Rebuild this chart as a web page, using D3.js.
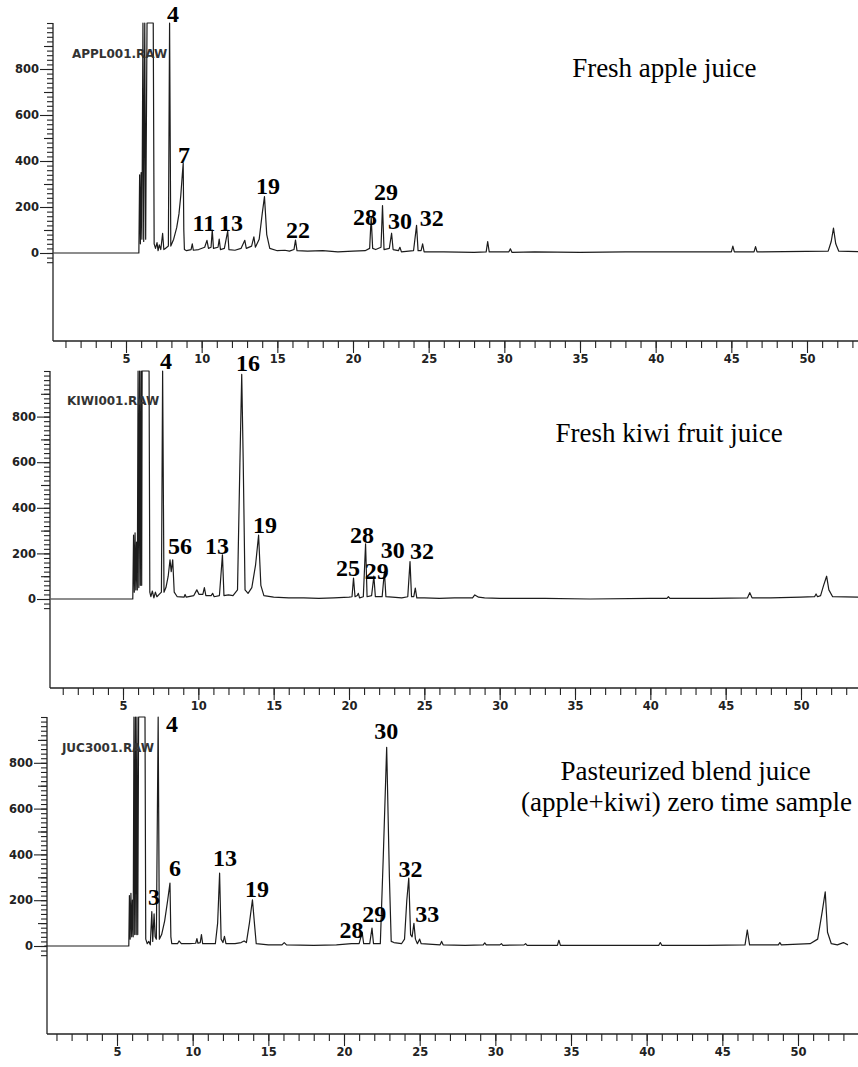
<!DOCTYPE html>
<html>
  <head>
    <meta charset="UTF-8" />
    <title>Chromatograms - apple, kiwi and blend juice</title>
    <script src="https://cdn.jsdelivr.net/npm/d3@7"></script>
    <style>
      body { margin: 0; background: #fff; }
      .tick text { font-family: "DejaVu Sans", sans-serif; font-weight: bold; font-size: 11.5px; fill: #222; }
      .tick line { stroke: #222; stroke-width: 1.1; }
      .raw { font-family: "DejaVu Sans", sans-serif; font-weight: bold; font-size: 12px; fill: #333; }
      .peak { font-family: "Liberation Serif", "Times New Roman", serif; font-weight: bold; font-size: 24px; fill: #000; }
      .title { font-family: "Liberation Serif", "Times New Roman", serif; font-size: 27px; fill: #000; }
    </style>
  </head>
  <body>
    <script>
      // traces: [retention time (min), detector response]
      let appleTrace = [
        [0.2, 0], [5.85, 0], [5.9, 340], [5.95, 40], [6.0, 350], [6.05, 60], [6.12, 1000], [6.17, 50],
        [6.24, 1000], [6.3, 60], [6.39, 1000], [6.8, 1000], [6.86, 40], [6.95, 20], [7.05, 45], [7.12, 10],
        [7.2, 35], [7.3, 15], [7.42, 85], [7.5, 15], [7.6, 20], [7.8, 30], [7.88, 1000], [7.96, 30],
        [8.15, 60], [8.35, 110], [8.5, 170], [8.62, 250], [8.72, 340], [8.78, 390], [8.82, 100], [8.86, 15],
        [9.0, 10], [9.3, 15], [9.38, 40], [9.45, 12], [9.8, 15], [10.2, 25], [10.35, 55], [10.45, 20],
        [10.62, 25], [10.7, 100], [10.78, 20], [11.08, 25], [11.16, 60], [11.24, 15], [11.5, 20], [11.72, 95],
        [11.8, 15], [12.2, 12], [12.6, 20], [12.85, 55], [12.95, 20], [13.3, 30], [13.45, 70], [13.55, 25],
        [13.8, 60], [14.0, 170], [14.15, 245], [14.3, 80], [14.5, 20], [15, 10], [15.5, 12], [15.8, 8],
        [16.1, 15], [16.2, 56], [16.3, 10], [17, 8], [18, 10], [19, 5], [20, 8], [20.8, 10], [21.1, 20],
        [21.2, 155], [21.3, 20], [21.5, 15], [21.85, 25], [21.95, 206], [22.05, 15], [22.4, 20], [22.55, 86],
        [22.65, 15], [23.0, 10], [23.1, 25], [23.2, 5], [24.0, 10], [24.2, 120], [24.3, 10], [24.5, 10],
        [24.6, 40], [24.7, 5], [26, 5], [28, 3], [28.8, 5], [28.9, 50], [29.0, 5], [30.3, 5], [30.4, 18],
        [30.5, 3], [32, 5], [35, 3], [38, 5], [42, 5], [45, 5], [45.1, 30], [45.2, 5], [46.5, 5], [46.6, 28],
        [46.7, 5], [51.4, 8], [51.6, 50], [51.75, 108], [51.9, 40], [52.1, 8], [54, 5]
      ];
      let kiwiTrace = [
        [0.2, 0], [5.65, 0], [5.7, 280], [5.75, 30], [5.8, 290], [5.85, 40], [5.9, 250], [5.95, 40],
        [6.0, 1000], [6.05, 50], [6.1, 1000], [6.15, 60], [6.2, 1000], [6.24, 60], [6.27, 1000], [6.73, 1000],
        [6.78, 30], [6.85, 10], [6.95, 35], [7.05, 5], [7.15, 30], [7.25, 10], [7.4, 20], [7.55, 30],
        [7.63, 1000], [7.72, 30], [7.85, 50], [8.0, 100], [8.12, 172], [8.2, 120], [8.3, 172], [8.4, 30],
        [8.6, 10], [9.05, 8], [9.12, 20], [9.2, 8], [9.7, 15], [9.9, 40], [10.05, 20], [10.3, 20], [10.4, 50],
        [10.5, 15], [10.85, 15], [10.95, 25], [11.05, 10], [11.4, 15], [11.6, 194], [11.7, 15], [12.0, 18],
        [12.3, 15], [12.6, 40], [12.76, 600], [12.88, 985], [12.98, 600], [13.1, 40], [13.3, 25], [13.55, 50],
        [13.8, 150], [14.0, 280], [14.15, 60], [14.35, 15], [15, 8], [16, 5], [17, 5], [18, 3], [19, 5],
        [20, 8], [20.2, 10], [20.3, 92], [20.4, 10], [20.55, 15], [20.62, 25], [20.7, 5], [20.95, 10],
        [21.1, 242], [21.2, 10], [21.5, 15], [21.65, 100], [21.75, 10], [22.2, 10], [22.35, 121], [22.45, 10],
        [23.5, 5], [23.9, 10], [24.05, 164], [24.15, 10], [24.3, 10], [24.4, 48], [24.5, 5], [25, 5], [26, 3],
        [27, 5], [28.2, 5], [28.35, 18], [28.6, 8], [29, 5], [30, 3], [33, 3], [36, 0], [40, 3], [41.1, 3],
        [41.2, 10], [41.3, 3], [44, 3], [46.45, 5], [46.6, 28], [46.75, 5], [48, 5], [50, 8], [50.9, 10],
        [51.0, 22], [51.1, 10], [51.3, 15], [51.5, 60], [51.7, 100], [51.85, 40], [52.1, 10], [54, 8]
      ];
      let blendTrace = [
        [0.2, 0], [5.78, 0], [5.82, 220], [5.87, 30], [5.92, 230], [5.97, 40], [6.02, 200], [6.07, 40],
        [6.12, 1000], [6.17, 50], [6.22, 1000], [6.27, 50], [6.32, 1000], [6.37, 50], [6.43, 1000], [6.85, 1000],
        [6.9, 30], [7.0, 10], [7.1, 20], [7.2, 5], [7.3, 150], [7.36, 20], [7.45, 140], [7.52, 40], [7.6, 30],
        [7.72, 1000], [7.8, 30], [7.95, 50], [8.15, 110], [8.35, 200], [8.5, 275], [8.56, 40], [8.62, 10],
        [9.0, 10], [9.1, 22], [9.25, 10], [9.8, 10], [10.2, 12], [10.28, 32], [10.35, 12], [10.5, 15],
        [10.58, 50], [10.66, 10], [11.5, 10], [11.65, 100], [11.78, 318], [11.88, 30], [12.0, 15], [12.1, 42],
        [12.2, 10], [12.8, 10], [13.2, 15], [13.4, 22], [13.55, 15], [13.75, 100], [13.95, 202], [14.08, 100],
        [14.2, 10], [15, 5], [15.9, 5], [16.05, 15], [16.2, 5], [18, 3], [19.5, 5], [20.5, 10], [21.0, 10],
        [21.2, 60], [21.3, 10], [21.7, 10], [21.85, 78], [21.95, 10], [22.4, 10], [22.6, 400], [22.82, 868],
        [23.0, 300], [23.12, 20], [23.3, 15], [23.8, 10], [24.0, 30], [24.15, 200], [24.28, 297], [24.4, 50],
        [24.5, 40], [24.62, 99], [24.72, 30], [24.85, 10], [25.0, 30], [25.1, 10], [25.6, 8], [26.35, 5],
        [26.45, 20], [26.55, 5], [28, 3], [29.2, 5], [29.3, 14], [29.4, 5], [30.3, 5], [30.4, 10], [30.5, 3],
        [31.9, 5], [32.0, 10], [32.1, 3], [34.1, 3], [34.2, 25], [34.3, 3], [37, 3], [40.8, 3], [40.9, 15],
        [41.0, 3], [44, 3], [46.5, 5], [46.65, 70], [46.8, 5], [48.7, 5], [48.8, 15], [48.9, 5], [50.8, 10],
        [51.3, 30], [51.6, 150], [51.8, 236], [51.95, 60], [52.2, 10], [52.6, 5], [53.0, 15], [53.3, 5]
      ];

      // peak numbers: [label, time, height where the label sits]
      let appleLabels = [
        ["4", 8.1, 1004], ["7", 8.83, 391], ["11", 10.15, 96], ["13", 11.94, 96], ["19", 14.39, 256],
        ["22", 16.37, 65], ["28", 20.8, 122], ["29", 22.18, 230], ["30", 23.1, 104], ["32", 25.2, 117]
      ];
      let kiwiLabels = [
        ["4", 7.85, 1009], ["16", 13.3, 1000], ["56", 8.78, 197], ["13", 11.24, 197], ["19", 14.42, 289],
        ["25", 19.93, 101], ["28", 20.86, 246], ["29", 21.85, 88], ["30", 22.9, 178], ["32", 24.85, 175]
      ];
      let blendLabels = [
        ["4", 8.63, 934], ["3", 7.45, 179], ["6", 8.83, 306], ["13", 12.14, 349], ["19", 14.25, 214],
        ["28", 20.5, 35], ["29", 22.0, 105], ["30", 22.8, 904], ["32", 24.4, 301], ["33", 25.5, 105]
      ];

      let fileNames = ["APPL001.RAW", "KIWI001.RAW", "JUC3001.RAW"];
      let sampleTitles = [
        ["Fresh apple juice"],
        ["Fresh kiwi fruit juice"],
        ["Pasteurized blend juice", "(apple+kiwi) zero time sample"]
      ];

      let xMajorTicks = [5, 10, 15, 20, 25, 30, 35, 40, 45, 50];
      let xMinorTicks = d3.range(1, 54);
      let yLabelTicks = [0, 200, 400, 600, 800];
      let yMidTicks = [100, 300, 500, 700, 900];
      let yMinorTicks = d3.range(-40, 1001, 20);

      // where each scanned panel sits on the page
      let width = 858;
      let height = 1067;
      let panels = [
        { trace: appleTrace, labels: appleLabels, axisX: 53, x5: 126, x50: 807, zeroY: 253, topY: 23, xAxisY: 341,
          fileAt: [1.43, 848], titleAt: [[34.48, 765]] },
        { trace: kiwiTrace, labels: kiwiLabels, axisX: 50, x5: 123, x50: 801, zeroY: 599, topY: 371, xAxisY: 688,
          fileAt: [1.28, 851], titleAt: [[33.7, 690]] },
        { trace: blendTrace, labels: blendLabels, axisX: 47, x5: 117, x50: 798, zeroY: 946, topY: 717, xAxisY: 1034,
          fileAt: [1.36, 847], titleAt: [[34.3, 725], [31.7, 590]] }
      ];

      let svg = d3.select("body").append("svg").attr("width", width).attr("height", height);
      svg.append("rect").attr("width", width).attr("height", height).attr("fill", "#fff");

      panels.forEach((p, i) => {
        let x = d3.scaleLinear().domain([5, 50]).range([p.x5, p.x50]);
        let y = d3.scaleLinear().domain([0, 1000]).range([p.zeroY, p.topY]);
        let g = svg.append("g");

        // x axis: minor then major ticks
        g.append("g")
          .attr("transform", `translate(0,${p.xAxisY})`)
          .call(d3.axisBottom(x).tickValues(xMinorTicks).tickSize(7).tickFormat(""))
          .call((a) => a.select(".domain").remove());
        g.append("g")
          .attr("transform", `translate(0,${p.xAxisY})`)
          .call(d3.axisBottom(x).tickValues(xMajorTicks).tickSize(12).tickPadding(2).tickFormat(d3.format("d")))
          .call((a) => a.select(".domain").remove());

        // y axis
        g.append("g")
          .attr("transform", `translate(${p.axisX},0)`)
          .call(d3.axisLeft(y).tickValues(yMinorTicks).tickSize(6).tickFormat(""))
          .call((a) => a.select(".domain").remove());
        g.append("g")
          .attr("transform", `translate(${p.axisX},0)`)
          .call(d3.axisLeft(y).tickValues(yMidTicks).tickSize(9).tickFormat(""))
          .call((a) => a.select(".domain").remove());
        g.append("g")
          .attr("transform", `translate(${p.axisX},0)`)
          .call(d3.axisLeft(y).tickValues(yLabelTicks).tickSize(13).tickPadding(1).tickFormat(d3.format("d")))
          .call((a) => a.select(".domain").remove());

        g.append("line")
          .attr("x1", p.axisX).attr("x2", width)
          .attr("y1", p.xAxisY).attr("y2", p.xAxisY)
          .attr("stroke", "#222").attr("stroke-width", 1.3);
        g.append("line")
          .attr("x1", p.axisX).attr("x2", p.axisX)
          .attr("y1", y(1000)).attr("y2", p.xAxisY)
          .attr("stroke", "#222").attr("stroke-width", 1.3);

        // chromatogram trace
        let line = d3.line().x((d) => x(d[0])).y((d) => y(d[1]));
        g.append("path")
          .datum(p.trace)
          .attr("fill", "none")
          .attr("stroke", "#1c1c1c")
          .attr("stroke-width", 1.2)
          .attr("stroke-linejoin", "round")
          .attr("d", line);

        g.append("text")
          .attr("class", "raw")
          .attr("x", x(p.fileAt[0]))
          .attr("y", y(p.fileAt[1]))
          .text(fileNames[i]);

        g.selectAll(".peak")
          .data(p.labels)
          .enter()
          .append("text")
          .attr("class", "peak")
          .attr("text-anchor", "middle")
          .attr("x", (d) => x(d[1]))
          .attr("y", (d) => y(d[2]))
          .text((d) => d[0]);

        sampleTitles[i].forEach((t, j) => {
          g.append("text")
            .attr("class", "title")
            .attr("x", x(p.titleAt[j][0]))
            .attr("y", y(p.titleAt[j][1]))
            .text(t);
        });
      });
    </script>
  </body>
</html>
